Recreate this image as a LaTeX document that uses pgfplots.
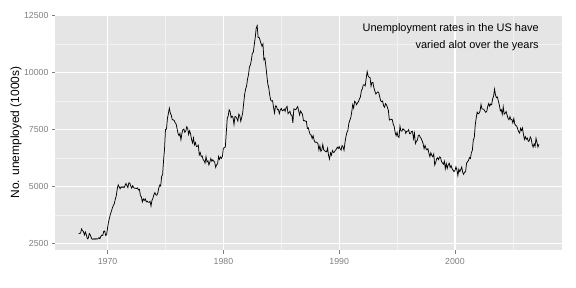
\documentclass[border=0pt]{standalone}
\usepackage{fontspec}
\setmainfont{Liberation Sans}
\usepackage{pgfplots}
\usepackage{pgfplotstable}
\pgfplotsset{compat=1.18}
\definecolor{panel}{RGB}{229,229,229}
\definecolor{minorg}{RGB}{242,242,242}
\definecolor{grey50}{RGB}{127,127,127}
\pgfplotstableread{
yr mo v
1967 7 2944
1967 8 2945
1967 9 2958
1967 10 3143
1967 11 3066
1967 12 3018
1968 1 2878
1968 2 3001
1968 3 2877
1968 4 2709
1968 5 2740
1968 6 2938
1968 7 2883
1968 8 2768
1968 9 2686
1968 10 2689
1968 11 2715
1968 12 2685
1969 1 2718
1969 2 2692
1969 3 2712
1969 4 2758
1969 5 2713
1969 6 2816
1969 7 2868
1969 8 2856
1969 9 3040
1969 10 3049
1969 11 2856
1969 12 2884
1970 1 3201
1970 2 3453
1970 3 3635
1970 4 3797
1970 5 3919
1970 6 4071
1970 7 4175
1970 8 4256
1970 9 4456
1970 10 4591
1970 11 4898
1970 12 5076
1971 1 4986
1971 2 4903
1971 3 4987
1971 4 4959
1971 5 4996
1971 6 4949
1971 7 5035
1971 8 5134
1971 9 5042
1971 10 4954
1971 11 5161
1971 12 5154
1972 1 5019
1972 2 4928
1972 3 5038
1972 4 4959
1972 5 4922
1972 6 4923
1972 7 4913
1972 8 4939
1972 9 4849
1972 10 4875
1972 11 4602
1972 12 4543
1973 1 4326
1973 2 4452
1973 3 4394
1973 4 4459
1973 5 4329
1973 6 4363
1973 7 4305
1973 8 4305
1973 9 4350
1973 10 4144
1973 11 4396
1973 12 4489
1974 1 4644
1974 2 4731
1974 3 4634
1974 4 4618
1974 5 4705
1974 6 4927
1974 7 5063
1974 8 5022
1974 9 5437
1974 10 5523
1974 11 6140
1974 12 6636
1975 1 7501
1975 2 7520
1975 3 7978
1975 4 8210
1975 5 8433
1975 6 8220
1975 7 8127
1975 8 7928
1975 9 7923
1975 10 7897
1975 11 7794
1975 12 7744
1976 1 7534
1976 2 7326
1976 3 7230
1976 4 7330
1976 5 7053
1976 6 7322
1976 7 7490
1976 8 7518
1976 9 7380
1976 10 7430
1976 11 7620
1976 12 7545
1977 1 7280
1977 2 7443
1977 3 7307
1977 4 7059
1977 5 6911
1977 6 7134
1977 7 6829
1977 8 6925
1977 9 6751
1977 10 6763
1977 11 6815
1977 12 6386
1978 1 6489
1978 2 6318
1978 3 6337
1978 4 6180
1978 5 6127
1978 6 6028
1978 7 6309
1978 8 6080
1978 9 6125
1978 10 5947
1978 11 6077
1978 12 6228
1979 1 6109
1979 2 6173
1979 3 6109
1979 4 6069
1979 5 5840
1979 6 5959
1979 7 5996
1979 8 6320
1979 9 6190
1979 10 6296
1979 11 6238
1979 12 6325
1980 1 6683
1980 2 6702
1980 3 6729
1980 4 7358
1980 5 7984
1980 6 8098
1980 7 8363
1980 8 8281
1980 9 8021
1980 10 8088
1980 11 8023
1980 12 7718
1981 1 8071
1981 2 8051
1981 3 7982
1981 4 7869
1981 5 8174
1981 6 8098
1981 7 7863
1981 8 8036
1981 9 8230
1981 10 8646
1981 11 9029
1981 12 9267
1982 1 9397
1982 2 9705
1982 3 9895
1982 4 10244
1982 5 10335
1982 6 10538
1982 7 10849
1982 8 10881
1982 9 11217
1982 10 11529
1982 11 11938
1982 12 12051
1983 1 11534
1983 2 11545
1983 3 11408
1983 4 11268
1983 5 11154
1983 6 11246
1983 7 10548
1983 8 10623
1983 9 10282
1983 10 9887
1983 11 9499
1983 12 9331
1984 1 9008
1984 2 8791
1984 3 8746
1984 4 8762
1984 5 8456
1984 6 8226
1984 7 8537
1984 8 8519
1984 9 8367
1984 10 8381
1984 11 8198
1984 12 8358
1985 1 8423
1985 2 8321
1985 3 8339
1985 4 8395
1985 5 8302
1985 6 8460
1985 7 8513
1985 8 8196
1985 9 8248
1985 10 8298
1985 11 8128
1985 12 8138
1986 1 7795
1986 2 8402
1986 3 8383
1986 4 8364
1986 5 8439
1986 6 8508
1986 7 8319
1986 8 8135
1986 9 8310
1986 10 8243
1986 11 8159
1986 12 7883
1987 1 7892
1987 2 7865
1987 3 7862
1987 4 7542
1987 5 7574
1987 6 7398
1987 7 7268
1987 8 7261
1987 9 7102
1987 10 7227
1987 11 7035
1987 12 6936
1988 1 6953
1988 2 6929
1988 3 6876
1988 4 6601
1988 5 6779
1988 6 6546
1988 7 6605
1988 8 6843
1988 9 6604
1988 10 6568
1988 11 6537
1988 12 6518
1989 1 6682
1989 2 6359
1989 3 6205
1989 4 6468
1989 5 6375
1989 6 6577
1989 7 6495
1989 8 6511
1989 9 6590
1989 10 6630
1989 11 6725
1989 12 6667
1990 1 6752
1990 2 6651
1990 3 6598
1990 4 6797
1990 5 6742
1990 6 6590
1990 7 6922
1990 8 7188
1990 9 7368
1990 10 7459
1990 11 7764
1990 12 7901
1991 1 8015
1991 2 8265
1991 3 8586
1991 4 8439
1991 5 8736
1991 6 8692
1991 7 8586
1991 8 8666
1991 9 8722
1991 10 8842
1991 11 8931
1991 12 9198
1992 1 9283
1992 2 9454
1992 3 9460
1992 4 9415
1992 5 9744
1992 6 10040
1992 7 9850
1992 8 9787
1992 9 9781
1992 10 9398
1992 11 9565
1992 12 9557
1993 1 9325
1993 2 9183
1993 3 9056
1993 4 9110
1993 5 9149
1993 6 9121
1993 7 8930
1993 8 8763
1993 9 8714
1993 10 8750
1993 11 8542
1993 12 8477
1994 1 8630
1994 2 8583
1994 3 8470
1994 4 8331
1994 5 7915
1994 6 7927
1994 7 7946
1994 8 7933
1994 9 7734
1994 10 7632
1994 11 7375
1994 12 7230
1995 1 7375
1995 2 7187
1995 3 7153
1995 4 7645
1995 5 7430
1995 6 7427
1995 7 7527
1995 8 7484
1995 9 7478
1995 10 7328
1995 11 7426
1995 12 7423
1996 1 7491
1996 2 7313
1996 3 7318
1996 4 7415
1996 5 7423
1996 6 7095
1996 7 7337
1996 8 6882
1996 9 6979
1996 10 7031
1996 11 7236
1996 12 7253
1997 1 7158
1997 2 7102
1997 3 7000
1997 4 6873
1997 5 6655
1997 6 6799
1997 7 6655
1997 8 6608
1997 9 6656
1997 10 6454
1997 11 6308
1997 12 6476
1998 1 6368
1998 2 6306
1998 3 6422
1998 4 5941
1998 5 6047
1998 6 6212
1998 7 6259
1998 8 6179
1998 9 6300
1998 10 6280
1998 11 6100
1998 12 6032
1999 1 5976
1999 2 6111
1999 3 5783
1999 4 6004
1999 5 5796
1999 6 5951
1999 7 6025
1999 8 5838
1999 9 5915
1999 10 5778
1999 11 5716
1999 12 5653
2000 1 5708
2000 2 5858
2000 3 5733
2000 4 5481
2000 5 5758
2000 6 5651
2000 7 5747
2000 8 5853
2000 9 5625
2000 10 5534
2000 11 5639
2000 12 5634
2001 1 6023
2001 2 6089
2001 3 6141
2001 4 6271
2001 5 6226
2001 6 6484
2001 7 6583
2001 8 7042
2001 9 7142
2001 10 7694
2001 11 8003
2001 12 8258
2002 1 8182
2002 2 8215
2002 3 8304
2002 4 8599
2002 5 8399
2002 6 8393
2002 7 8390
2002 8 8304
2002 9 8251
2002 10 8307
2002 11 8520
2002 12 8640
2003 1 8520
2003 2 8618
2003 3 8588
2003 4 8842
2003 5 8957
2003 6 9266
2003 7 9011
2003 8 8896
2003 9 8921
2003 10 8732
2003 11 8576
2003 12 8317
2004 1 8370
2004 2 8167
2004 3 8491
2004 4 8170
2004 5 8212
2004 6 8286
2004 7 8136
2004 8 7990
2004 9 7927
2004 10 8061
2004 11 7932
2004 12 7934
2005 1 7784
2005 2 7980
2005 3 7737
2005 4 7672
2005 5 7651
2005 6 7524
2005 7 7406
2005 8 7345
2005 9 7553
2005 10 7453
2005 11 7566
2005 12 7279
2006 1 7064
2006 2 7184
2006 3 7072
2006 4 7120
2006 5 6980
2006 6 7001
2006 7 7175
2006 8 7091
2006 9 6847
2006 10 6727
2006 11 6872
2006 12 6762
2007 1 7116
2007 2 6927
2007 3 6731
2007 4 6850
}\unemp
\begin{document}
\begin{tikzpicture}
\useasboundingbox (-55.5bp,-38bp) rectangle (520.5bp,250bp);
\begin{axis}[
  at={(0,0)}, anchor=south west,
  scale only axis,
  width=506bp, height=235bp,
  xmin=1965.5, xmax=2009.2,
  ymin=2217, ymax=12519,
  xtick={1970,1980,1990,2000},
  ytick={2500,5000,7500,10000,12500},
  minor xtick={1975,1985,1995,2005},
  minor ytick={3750,6250,8750,11250},
  scaled ticks=false,
  grid=both,
  major grid style={white, line width=1.1pt},
  minor grid style={minorg, line width=0.6pt},
  axis background/.style={fill=panel},
  axis line style={draw=none},
  tick pos=left,
  tick align=outside,
  major tick length=3.5bp,
  minor tick length=0pt,
  tick style={grey50, line width=0.5pt},
  /pgf/number format/assume math mode=true,
  /pgf/number format/set thousands separator={},
  ticklabel style={font=\fontsize{8.8}{10}\selectfont, text=grey50},
  xticklabel style={yshift=-1bp},
  ylabel={No. unemployed (1000s)},
  every axis y label/.style={at={(axis description cs:0,0.5)}, xshift=-39.5bp, rotate=90, anchor=center, font=\fontsize{12}{14}\selectfont},
  clip=false,
]
\addplot[black, line width=0.75pt, no markers] table[x expr=\thisrow{yr}+(\thisrow{mo}-1)/12, y=v] {\unemp};
\node[anchor=east, align=right, font=\fontsize{11}{16.5}\selectfont, inner sep=0pt] at (axis cs:2007.25,11555) {Unemployment rates in the US have\\varied alot over the years};
\end{axis}
\end{tikzpicture}
\end{document}
